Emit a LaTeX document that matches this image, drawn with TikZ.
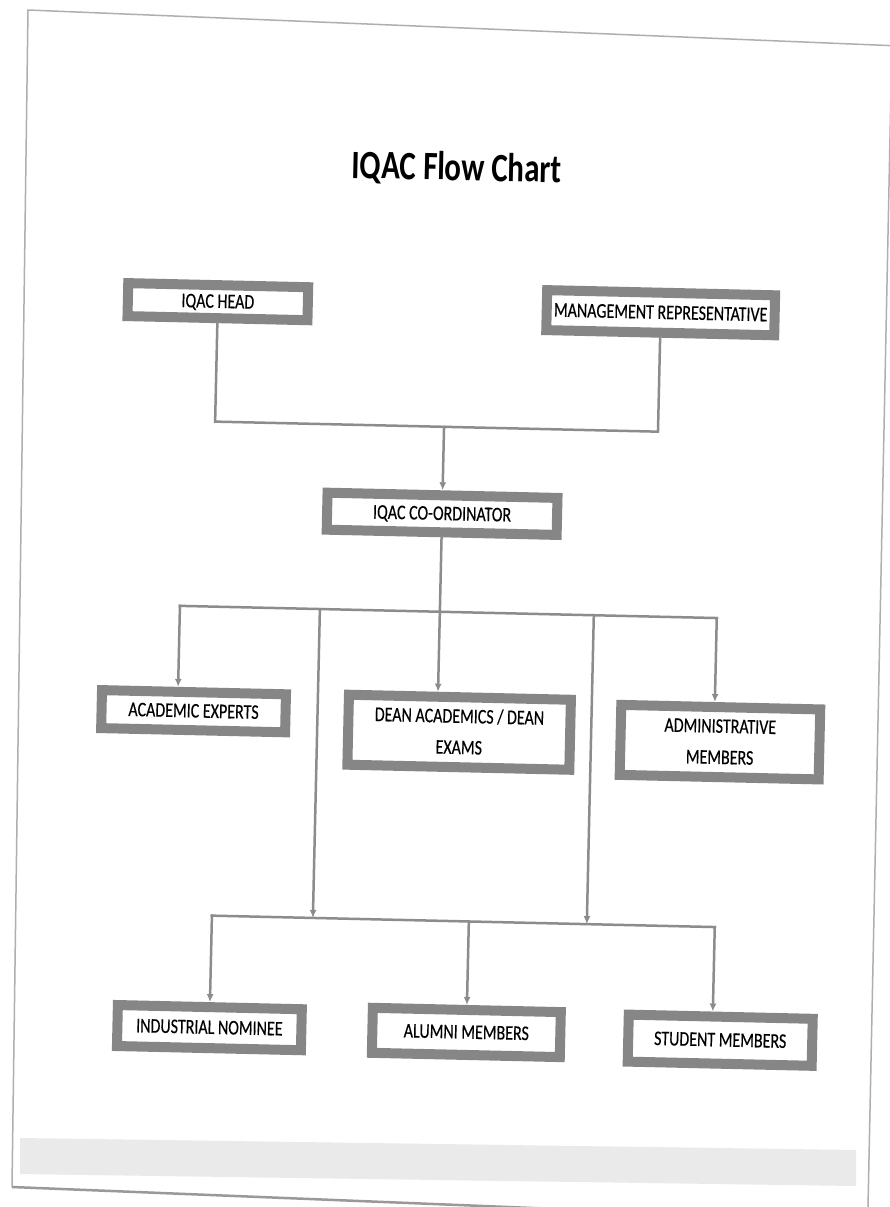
\documentclass[tikz,border=0pt]{standalone}
\usepackage{fontspec}
\setmainfont{Carlito}
\usetikzlibrary{arrows.meta}
\definecolor{framegray}{RGB}{134,134,134}
\definecolor{linegray}{RGB}{140,140,140}
\definecolor{pagegray}{RGB}{175,175,175}
\definecolor{bandgray}{RGB}{234,234,234}
\newcommand{\tall}[1]{\scalebox{1}[1.3]{\begin{tabular}{@{}c@{}}#1\end{tabular}}}

\begin{document}
\begin{tikzpicture}[x=1pt,y=-1pt,
  box/.style={draw=framegray,line width=10pt,fill=white,inner sep=0pt,outer sep=5pt,
    font=\fontsize{16}{24}\selectfont\addfontfeature{FakeBold=0.4},transform shape},
  link/.style={draw=linegray,line width=2.5pt,line cap=rect},
  arr/.style={link,-{Latex[length=8pt,width=7pt]}}]
  \useasboundingbox (0,0) rectangle (890,1207);
  \clip (0,0) rectangle (890,1207);
  \fill[white] (0,0) rectangle (890,1207);
  \fill[bandgray] (20,1138) -- (856,1150) -- (856,1186) -- (20,1174) -- cycle;
  \draw[pagegray,line width=1.5pt] (900,46) -- (28,10) -- (12,1187);
  \draw[pagegray,line width=1.5pt] (892,40) -- (868,1207);
  \draw[gray!80,line width=2.5pt] (12,1187) -- (880,1222);
  \begin{scope}[rotate around={-1.3:(450,650)}]
    \node[font=\bfseries\fontsize{31}{36}\selectfont,transform shape] (title) at (446,171) {\tall{IQAC Flow Chart}};
    \node[box,minimum width=180pt,minimum height=33pt] (head) at (210,307) {\tall{IQAC HEAD}};
    \node[box,minimum width=228pt,minimum height=40pt] (mgmt) at (653,308) {\tall{MANAGEMENT REPRESENTATIVE}};
    \node[box,minimum width=230pt,minimum height=37pt] (coord) at (439,514) {\tall{IQAC CO-ORDINATOR}};
    \node[box,minimum width=184pt,minimum height=38pt] (acad) at (195,717) {\tall{ACADEMIC EXPERTS}};
    \node[box,minimum width=222pt,minimum height=70pt] (dean) at (461,732) {\tall{DEAN ACADEMICS / DEAN\\EXAMS}};
    \node[box,minimum width=199pt,minimum height=70pt] (admin) at (722,736) {\tall{ADMINISTRATIVE\\MEMBERS}};
    \node[box,minimum width=184pt,minimum height=41pt] (ind) at (218,1033) {\tall{INDUSTRIAL NOMINEE}};
    \node[box,minimum width=188pt,minimum height=45pt] (alum) at (475,1032) {\tall{ALUMNI MEMBERS}};
    \node[box,minimum width=184pt,minimum height=47pt] (stud) at (729,1034) {\tall{STUDENT MEMBERS}};

    \coordinate (hc) at (210,427);
    \coordinate (mc) at (653,427);
    \coordinate (jtop) at (439,427);
    \coordinate (jmid) at (439,612);
    \coordinate (al) at (179,612);
    \coordinate (ar) at (716,612);
    \coordinate (ql) at (319,612);
    \coordinate (qr) at (593,612);
    \coordinate (qlb) at (319,921);
    \coordinate (qrb) at (593,921);
    \coordinate (bl) at (218,921);
    \coordinate (bm) at (475,921);
    \coordinate (br) at (721,921);

    \draw[link] (head.south) -- (hc) -- (mc) -- (mgmt.south);
    \draw[arr] (jtop) -- (coord.north);
    \draw[link] (coord.south) -- (jmid) (al) -- (ar);
    \draw[arr] (jmid) -- ([xshift=-22pt]dean.north);
    \draw[arr] (al) -- ([xshift=-16pt]acad.north);
    \draw[arr] (ar) -- ([xshift=-6pt]admin.north);
    \draw[arr] (ql) -- (qlb);
    \draw[arr] (qr) -- (qrb);
    \draw[link] (bl) -- (br);
    \foreach \n/\s/\c in {ind/0/bl,alum/0/bm,stud/-8/br}
      \draw[arr] (\c) -- ([xshift=\s pt]\n.north);
  \end{scope}
\end{tikzpicture}
\end{document}
